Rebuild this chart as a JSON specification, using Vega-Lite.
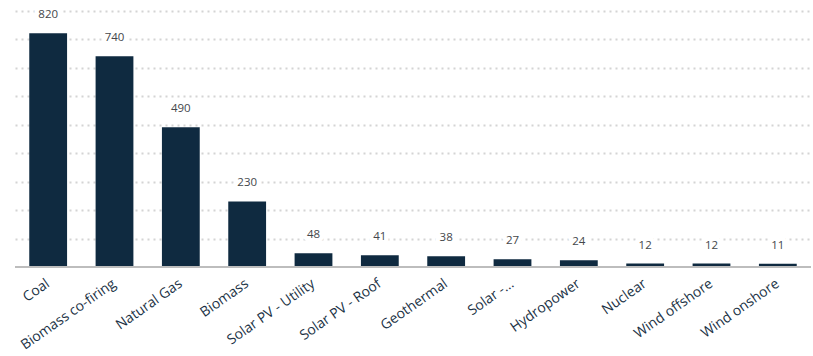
{
  "$schema": "https://vega.github.io/schema/vega-lite/v6.json",
  "width": 796,
  "height": 267,
  "autosize": {"type": "none"},
  "padding": {"left": 15, "top": 0, "right": 2, "bottom": 89},
  "background": "white",
  "config": {
    "view": {"stroke": null},
    "font": "Open Sans"
  },
  "data": {
    "values": [
      {"source": "Coal", "value": 820},
      {"source": "Biomass co-firing", "value": 740},
      {"source": "Natural Gas", "value": 490},
      {"source": "Biomass", "value": 230},
      {"source": "Solar PV - Utility", "value": 48},
      {"source": "Solar PV - Roof", "value": 41},
      {"source": "Geothermal", "value": 38},
      {"source": "Solar -...", "value": 27},
      {"source": "Hydropower", "value": 24},
      {"source": "Nuclear", "value": 12},
      {"source": "Wind offshore", "value": 12},
      {"source": "Wind onshore", "value": 11}
    ]
  },
  "encoding": {
    "x": {
      "field": "source",
      "type": "nominal",
      "sort": null,
      "scale": {"paddingInner": 0.43, "paddingOuter": 0.215},
      "axis": {
        "title": null,
        "domain": false,
        "ticks": false,
        "labelAngle": -35,
        "labelAlign": "right",
        "labelBaseline": "middle",
        "labelPadding": 15,
        "labelFontSize": 14,
        "labelColor": "#1b3245",
        "labelFont": "Open Sans"
      }
    },
    "y": {
      "field": "value",
      "type": "quantitative",
      "scale": {"domain": [0, 937], "nice": false},
      "axis": {
        "title": null,
        "labels": false,
        "ticks": false,
        "domain": false,
        "values": [100, 200, 300, 400, 500, 600, 700, 800, 900],
        "grid": true,
        "gridDash": [2, 4],
        "gridWidth": 2,
        "gridColor": "#d4d4d4"
      }
    }
  },
  "layer": [
    {
      "mark": {"type": "bar", "color": "#0f2a40"}
    },
    {
      "mark": {"type": "text", "baseline": "middle", "dy": -18, "fontSize": 11.5, "stroke": "white", "strokeWidth": 9, "strokeJoin": "round", "fill": "white"},
      "encoding": {"text": {"field": "value", "type": "quantitative"}}
    },
    {
      "mark": {"type": "text", "baseline": "middle", "dy": -18, "fontSize": 11.5, "color": "#44474b"},
      "encoding": {"text": {"field": "value", "type": "quantitative"}}
    },
    {
      "mark": {"type": "rule", "color": "#bdbdbd", "strokeWidth": 2},
      "encoding": {"y": {"datum": 0}, "x": null}
    }
  ]
}
